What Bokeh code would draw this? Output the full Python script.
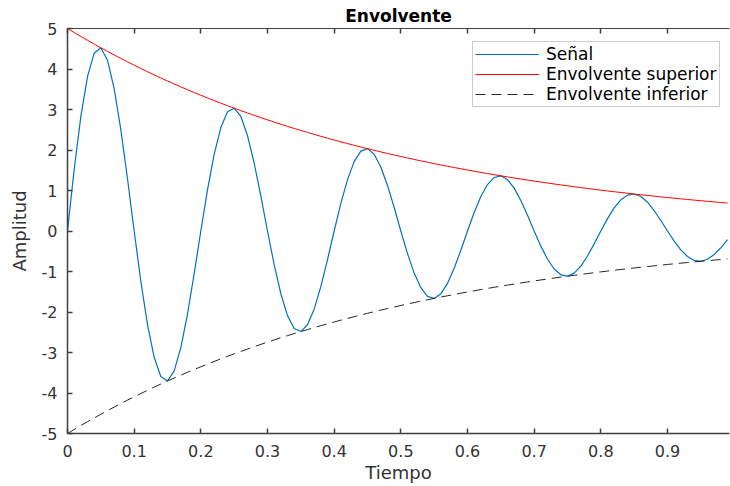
from bokeh.plotting import figure
from bokeh.models import Range1d, FixedTicker, LinearAxis, Legend, LegendItem
from bokeh.embed import file_html
from bokeh.resources import INLINE

tiempo = [0.00, 0.01, 0.02, 0.03, 0.04, 0.05, 0.06, 0.07, 0.08, 0.09,
          0.10, 0.11, 0.12, 0.13, 0.14, 0.15, 0.16, 0.17, 0.18, 0.19,
          0.20, 0.21, 0.22, 0.23, 0.24, 0.25, 0.26, 0.27, 0.28, 0.29,
          0.30, 0.31, 0.32, 0.33, 0.34, 0.35, 0.36, 0.37, 0.38, 0.39,
          0.40, 0.41, 0.42, 0.43, 0.44, 0.45, 0.46, 0.47, 0.48, 0.49,
          0.50, 0.51, 0.52, 0.53, 0.54, 0.55, 0.56, 0.57, 0.58, 0.59,
          0.60, 0.61, 0.62, 0.63, 0.64, 0.65, 0.66, 0.67, 0.68, 0.69,
          0.70, 0.71, 0.72, 0.73, 0.74, 0.75, 0.76, 0.77, 0.78, 0.79,
          0.80, 0.81, 0.82, 0.83, 0.84, 0.85, 0.86, 0.87, 0.88, 0.89,
          0.90, 0.91, 0.92, 0.93, 0.94, 0.95, 0.96, 0.97, 0.98, 0.99]

senal = [0.000, 1.514, 2.824, 3.810, 4.390, 4.524, 4.218, 3.517, 2.505, 1.290,
         0.000, -1.240, -2.312, -3.119, -3.594, -3.704, -3.454, -2.879, -2.050, -1.056,
         0.000, 1.015, 1.893, 2.553, 2.943, 3.033, 2.828, 2.357, 1.679, 0.865,
         0.000, -0.831, -1.549, -2.090, -2.409, -2.483, -2.315, -1.930, -1.374, -0.708,
         0.000, 0.680, 1.269, 1.712, 1.973, 2.033, 1.896, 1.580, 1.125, 0.580,
         0.000, -0.557, -1.039, -1.401, -1.615, -1.664, -1.551, -1.294, -0.921, -0.475,
         0.000, 0.456, 0.851, 1.147, 1.322, 1.363, 1.271, 1.059, 0.754, 0.389,
         0.000, -0.374, -0.697, -0.939, -1.082, -1.116, -1.041, -0.867, -0.618, -0.318,
         0.000, 0.306, 0.570, 0.769, 0.886, 0.913, 0.851, 0.710, 0.506, 0.260,
         0.000, -0.250, -0.467, -0.629, -0.726, -0.748, -0.697, -0.582, -0.414, -0.213]

env_sup = [5.000, 4.901, 4.804, 4.709, 4.616, 4.524, 4.435, 4.347, 4.261, 4.176,
           4.094, 4.013, 3.933, 3.855, 3.779, 3.704, 3.631, 3.559, 3.488, 3.419,
           3.352, 3.285, 3.220, 3.156, 3.094, 3.033, 2.973, 2.914, 2.856, 2.799,
           2.744, 2.690, 2.636, 2.584, 2.533, 2.483, 2.434, 2.386, 2.338, 2.292,
           2.247, 2.202, 2.159, 2.116, 2.074, 2.033, 1.993, 1.953, 1.914, 1.877,
           1.839, 1.803, 1.767, 1.732, 1.698, 1.664, 1.631, 1.599, 1.567, 1.536,
           1.506, 1.476, 1.447, 1.418, 1.390, 1.363, 1.336, 1.309, 1.283, 1.258,
           1.233, 1.209, 1.185, 1.161, 1.138, 1.116, 1.094, 1.072, 1.051, 1.030,
           1.009, 0.989, 0.970, 0.951, 0.932, 0.913, 0.895, 0.878, 0.860, 0.843,
           0.826, 0.810, 0.794, 0.778, 0.763, 0.748, 0.733, 0.719, 0.704, 0.690]

env_inf = [-5.000, -4.901, -4.804, -4.709, -4.616, -4.524, -4.435, -4.347, -4.261, -4.176,
           -4.094, -4.013, -3.933, -3.855, -3.779, -3.704, -3.631, -3.559, -3.488, -3.419,
           -3.352, -3.285, -3.220, -3.156, -3.094, -3.033, -2.973, -2.914, -2.856, -2.799,
           -2.744, -2.690, -2.636, -2.584, -2.533, -2.483, -2.434, -2.386, -2.338, -2.292,
           -2.247, -2.202, -2.159, -2.116, -2.074, -2.033, -1.993, -1.953, -1.914, -1.877,
           -1.839, -1.803, -1.767, -1.732, -1.698, -1.664, -1.631, -1.599, -1.567, -1.536,
           -1.506, -1.476, -1.447, -1.418, -1.390, -1.363, -1.336, -1.309, -1.283, -1.258,
           -1.233, -1.209, -1.185, -1.161, -1.138, -1.116, -1.094, -1.072, -1.051, -1.030,
           -1.009, -0.989, -0.970, -0.951, -0.932, -0.913, -0.895, -0.878, -0.860, -0.843,
           -0.826, -0.810, -0.794, -0.778, -0.763, -0.748, -0.733, -0.719, -0.704, -0.690]

x_ticks = [0, 0.1, 0.2, 0.3, 0.4, 0.5, 0.6, 0.7, 0.8, 0.9]
x_labels = ["0", "0.1", "0.2", "0.3", "0.4", "0.5", "0.6", "0.7", "0.8", "0.9"]
y_ticks = [-5, -4, -3, -2, -1, 0, 1, 2, 3, 4, 5]
y_labels = ["-5", "-4", "-3", "-2", "-1", "0", "1", "2", "3", "4", "5"]

FONT = "DejaVu Sans"
AX = "#404040"

p = figure(width=730, height=486, output_backend="svg", toolbar_location=None,
           x_range=Range1d(0, 0.993), y_range=Range1d(-5, 5),
           min_border_left=67, min_border_right=1, min_border_top=28, min_border_bottom=53,
           title="Envolvente")
p.title.align = "center"
p.title.text_font = FONT
p.title.text_font_size = "17px"
p.title.text_font_style = "bold"
p.title.text_color = "#000000"
p.title.offset = 0
p.title.standoff = 5

p.xgrid.visible = False
p.ygrid.visible = False
p.outline_line_color = None
p.background_fill_color = "white"
p.border_fill_color = "white"

for ax in (p.xaxis[0], p.yaxis[0]):
    ax.axis_line_color = AX
    ax.axis_line_width = 1.5
    ax.major_tick_line_color = AX
    ax.major_tick_line_width = 1.5
    ax.major_tick_in = 5
    ax.major_tick_out = 0
    ax.minor_tick_line_color = None
    ax.major_label_text_font = FONT
    ax.major_label_text_font_size = "16px"
    ax.major_label_text_color = "#333333"
    ax.axis_label_text_font = FONT
    ax.axis_label_text_font_size = "18px"
    ax.axis_label_text_font_style = "normal"
    ax.axis_label_text_color = "#333333"

p.xaxis[0].ticker = FixedTicker(ticks=x_ticks)
p.yaxis[0].ticker = FixedTicker(ticks=y_ticks)
p.xaxis[0].major_label_overrides = dict(zip(x_ticks, x_labels))
p.yaxis[0].major_label_overrides = dict(zip(y_ticks, y_labels))
p.xaxis[0].axis_label = "Tiempo"
p.yaxis[0].axis_label = "Amplitud"
p.xaxis[0].major_label_standoff = 11
p.yaxis[0].major_label_standoff = 10
p.xaxis[0].axis_label_standoff = 2
p.yaxis[0].axis_label_standoff = 9

top = LinearAxis(ticker=FixedTicker(ticks=x_ticks))
top.axis_line_color = AX
top.axis_line_width = 1
top.major_tick_line_color = AX
top.major_tick_line_width = 1.5
top.major_tick_in = 5
top.major_tick_out = 0
top.minor_tick_line_color = None
top.major_label_overrides = {t: "" for t in x_ticks}
top.major_label_standoff = 0
p.add_layout(top, "above")

r1 = p.line(tiempo, senal, line_color="#0072BD", line_width=1.2)
r2 = p.line(tiempo, env_sup, line_color="#FF0000", line_width=1)
r3 = p.line(tiempo, env_inf, line_color="#262626", line_width=1, line_dash="10 6")

legend = Legend(items=[LegendItem(label="Señal", renderers=[r1]),
                       LegendItem(label="Envolvente superior", renderers=[r2]),
                       LegendItem(label="Envolvente inferior", renderers=[r3])],
                location=(405, 326))
legend.label_text_font = FONT
legend.label_text_font_size = "17px"
legend.label_text_color = "#000000"
legend.border_line_color = "#999999"
legend.border_line_width = 1
legend.background_fill_color = "white"
legend.background_fill_alpha = 1
legend.glyph_width = 64
legend.glyph_height = 16
legend.label_height = 16
legend.spacing = 0
legend.padding = 2
legend.margin = 0
legend.label_standoff = 7
p.add_layout(legend)

open("out.html", "w").write(file_html(p, INLINE))
